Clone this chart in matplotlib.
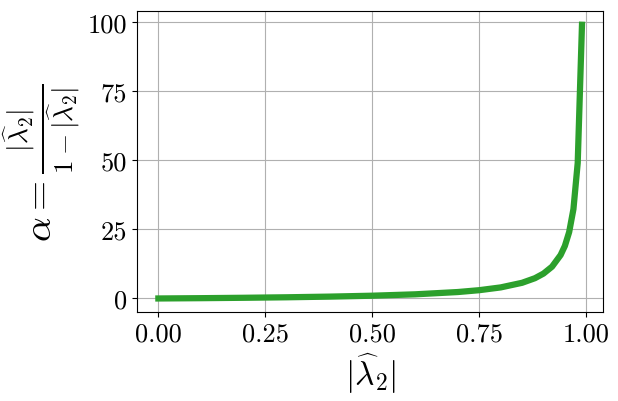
import matplotlib
matplotlib.use('Agg')
import matplotlib.pyplot as plt

# |lambda_2| values and alpha
lam = [0.0, 0.1, 0.2, 0.3, 0.4, 0.5, 0.6, 0.7, 0.75, 0.8, 0.85, 0.88,
       0.9, 0.92, 0.94, 0.95, 0.96, 0.97, 0.98, 0.99]
alpha = [0.0, 0.11, 0.25, 0.43, 0.67, 1.0, 1.5, 2.33, 3.0, 4.0, 5.67, 7.33,
         9.0, 11.5, 15.7, 19.0, 24.0, 32.3, 49.0, 99.0]
xticks = [0.0, 0.25, 0.5, 0.75, 1.0]
yticks = [0, 25, 50, 75, 100]

plt.rcParams['mathtext.fontset'] = 'cm'
plt.rcParams['font.family'] = 'serif'
plt.rcParams['font.serif'] = ['cmr10', 'DejaVu Serif']
plt.rcParams['axes.formatter.use_mathtext'] = True

fig = plt.figure(figsize=(6.18, 4.02), dpi=100)
ax = fig.add_subplot(111)
fig.subplots_adjust(left=0.222, right=0.976, top=0.970, bottom=0.221)

ax.plot(lam, alpha, color='#2ca02c', linewidth=4.5)
ax.grid(True)
ax.set_xticks(xticks)
ax.set_yticks(yticks)
ax.set_xticklabels(['%.2f' % t for t in xticks])
ax.set_yticklabels(['%d' % t for t in yticks])
ax.tick_params(labelsize=19)

ax.set_xlabel(r'$|\widehat{\lambda}_2|$', fontsize=24)
ax.set_ylabel(r'$\alpha = \frac{|\widehat{\lambda}_2|}{1 - |\widehat{\lambda}_2|}$', fontsize=28)

fig.savefig('out.png', dpi=100)
